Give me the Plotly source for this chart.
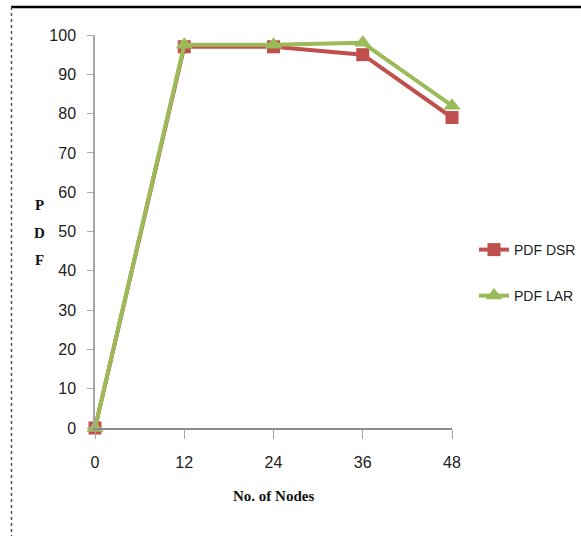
import plotly.graph_objects as go

nodes = [0, 12, 24, 36, 48]
pdf_dsr = [0, 97, 97, 95, 79]
pdf_lar = [0, 97.5, 97.5, 98, 82]
y_ticks = [0, 10, 20, 30, 40, 50, 60, 70, 80, 90, 100]

W, H = 581, 536
L, R, T, B = 95, 129, 35, 108
pw, ph = W - L - R, H - T - B

def px(xp):
    return (xp - L) / pw

def py(yp):
    return (H - B - yp) / ph

narrow = "Liberation Sans Narrow, Arial Narrow, Liberation Sans, Arial, sans-serif"
tick_font = dict(family=narrow, size=16, color="#222")
legend_font = dict(family=narrow, size=14, color="#222")
serif_bold = dict(family="Liberation Serif, Times New Roman, serif", size=15, color="#111")

fig = go.Figure()
fig.add_trace(go.Scatter(
    x=nodes, y=pdf_dsr, name="PDF DSR", mode="lines+markers",
    line=dict(color="#C0504D", width=4),
    marker=dict(symbol="square", size=13, color="#C0504D"),
    cliponaxis=False, legend="legend",
))
fig.add_trace(go.Scatter(
    x=nodes, y=pdf_lar, name="PDF LAR", mode="lines+markers",
    line=dict(color="#9BBB59", width=4),
    marker=dict(symbol="triangle-up", size=15, color="#9BBB59"),
    cliponaxis=False, legend="legend2",
))

fig.update_layout(
    width=W, height=H,
    margin=dict(l=L, r=R, t=T, b=B),
    paper_bgcolor="white", plot_bgcolor="white",
    xaxis=dict(
        range=[0, 48], tickvals=nodes, ticktext=[str(n) for n in nodes],
        showgrid=False, zeroline=False,
        showline=True, linecolor="#8c8c8c", linewidth=2,
        ticks="outside", ticklen=9, tickcolor="#a6a6a6", tickwidth=1,
        tickfont=tick_font, ticklabelstandoff=10,
    ),
    yaxis=dict(
        range=[0, 100], tickvals=y_ticks,
        showgrid=False, zeroline=False,
        showline=True, linecolor="#a6a6a6", linewidth=1.5,
        ticks="outside", ticklen=6, tickcolor="#a6a6a6", tickwidth=1,
        tickfont=tick_font, ticklabelstandoff=8,
    ),
    legend=dict(
        xref="container", yref="container", x=474 / W, y=1 - 250 / H,
        xanchor="left", yanchor="middle", font=legend_font,
        bgcolor="rgba(0,0,0,0)", itemwidth=30,
    ),
    legend2=dict(
        xref="container", yref="container", x=474 / W, y=1 - 296 / H,
        xanchor="left", yanchor="middle", font=legend_font,
        bgcolor="rgba(0,0,0,0)", itemwidth=30,
    ),
    showlegend=True,
)

# axis titles
fig.add_annotation(text="<b>No. of Nodes</b>", x=px(273), y=py(496), xref="paper", yref="paper",
                   showarrow=False, font=serif_bold, xanchor="center", yanchor="middle")
for letter, yy in zip(["P", "D", "F"], [205, 233, 260]):
    fig.add_annotation(text=f"<b>{letter}</b>", x=px(39), y=py(yy), xref="paper", yref="paper",
                       showarrow=False, font=serif_bold, xanchor="center", yanchor="middle")

# outer frame: top black rule and dashed left rule
fig.add_shape(type="line", xref="paper", yref="paper", x0=px(11), x1=px(W), y0=py(7), y1=py(7),
              line=dict(color="black", width=2.5))
fig.add_shape(type="line", xref="paper", yref="paper", x0=px(11.5), x1=px(11.5), y0=py(7), y1=py(H),
              line=dict(color="#555", width=1.5, dash="dot"))

fig.write_html("out.html", config={"displayModeBar": False},
               post_script="document.body.style.margin='0';")
